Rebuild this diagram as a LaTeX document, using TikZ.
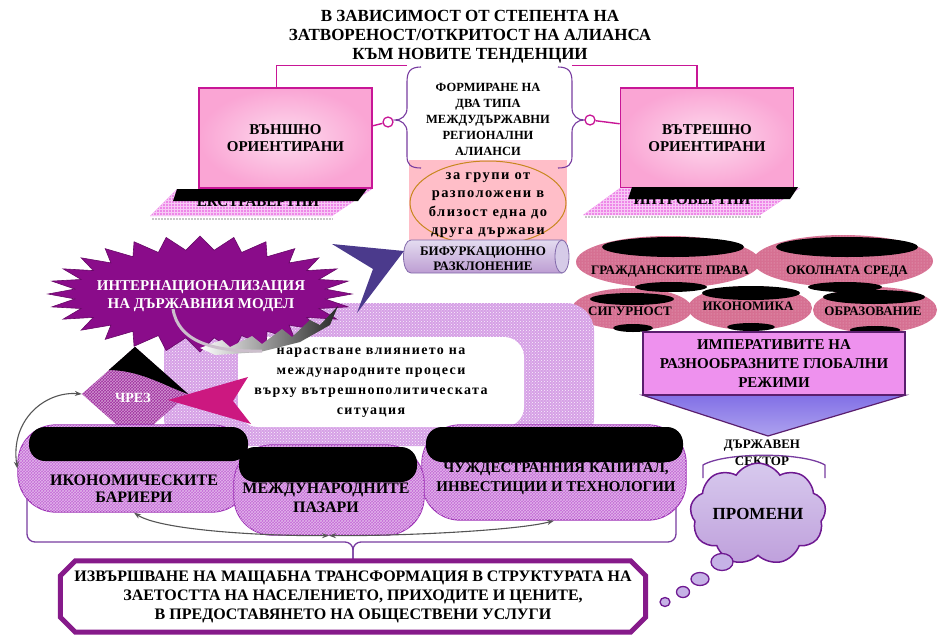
\documentclass[tikz,border=0pt]{standalone}
\usepackage{fontspec}
\setmainfont{Liberation Serif}
\usetikzlibrary{arrows,arrows.meta,shapes,calc,positioning,patterns}

\definecolor{linkmag}{RGB}{200,22,150}
\definecolor{screenpink}{RGB}{250,165,212}
\definecolor{keypink}{RGB}{238,135,232}
\definecolor{bracepurple}{RGB}{120,60,160}
\definecolor{softpink}{RGB}{255,190,200}
\definecolor{ovalrim}{RGB}{200,135,30}
\definecolor{tubefill}{RGB}{200,185,225}
\definecolor{tuberim}{RGB}{130,105,170}
\definecolor{navyarrow}{RGB}{75,58,140}
\definecolor{starpurple}{RGB}{138,12,138}
\definecolor{hotarrow}{RGB}{204,24,128}
\definecolor{ribbon}{RGB}{214,160,230}
\definecolor{boxorchid}{RGB}{196,106,214}
\definecolor{boxrim}{RGB}{155,45,180}
\definecolor{viapurple}{RGB}{160,45,160}
\definecolor{rose}{RGB}{214,112,146}
\definecolor{impviolet}{RGB}{238,145,238}
\definecolor{imprim}{RGB}{90,30,110}
\definecolor{chevron}{RGB}{130,112,230}
\definecolor{cloudfill}{RGB}{198,178,230}
\definecolor{cloudrim}{RGB}{110,25,145}
\definecolor{framepurple}{RGB}{134,26,138}
\definecolor{arcgray}{RGB}{85,85,85}

\newcommand{\fsz}[2]{\fontsize{#1}{#2}\selectfont\bfseries}
\newcommand{\spaced}{\addfontfeature{LetterSpace=10}}

\begin{document}
\begin{tikzpicture}[x=1pt,y=-1pt,
	every node/.style={font=\bfseries, align=center, inner sep=0pt},
	link/.style={draw=linkmag, line width=1.4pt},
	ring/.style={circle, draw=linkmag, fill=white, line width=1.3pt, minimum size=10pt},
	brace/.style={draw=bracepurple, line width=1.1pt},
	screen/.style={rectangle, draw=linkmag, line width=1.6pt, inner color=screenpink!40!white, outer color=screenpink, minimum width=173pt, minimum height=100pt, font=\fsz{15}{17}},
	keyboard/.style={fill=keypink, postaction={pattern=grid, pattern color=keypink!45!white}},
	rosy/.style={ellipse, fill=rose, postaction={pattern=dots, pattern color=rose!50!white}},
	botbox/.style={rectangle, rounded corners=38pt, draw=boxrim, line width=1.3pt, fill=boxorchid, postaction={pattern=crosshatch, pattern color=boxorchid!50!white}},
	arcs/.style={draw=arcgray, line width=1.1pt, <->, >={Stealth[length=7pt,width=5pt]}}
	]
	\useasboundingbox (0,0) rectangle (940,635);

	% title and the two laptops
	\node[font=\fsz{17}{19}] (title) at (470,37) {В ЗАВИСИМОСТ ОТ СТЕПЕНТА НА\\ЗАТВОРЕНОСТ/ОТКРИТОСТ НА АЛИАНСА\\КЪМ НОВИТЕ ТЕНДЕНЦИИ};
	\node[screen] (extScreen) at (285.5,138) {ВЪНШНО\\ОРИЕНТИРАНИ};
	\node[screen] (intScreen) at (707,138) {ВЪТРЕШНО\\ОРИЕНТИРАНИ};
	\draw[link] ([xshift=-9pt]extScreen.north) -- ++(0,-22) -| ([xshift=-10pt]intScreen.north);

	\draw[gray!45, densely dotted, line width=2pt] (152,219) -- (333,219);
	\draw[gray!45, densely dotted, line width=2pt] (585,217) -- (761,217);
	\path[keyboard] (177,189) -- (372,189) -- (332,216) -- (150,216) -- cycle;
	\path[keyboard] (620,188) -- (800,188) -- (760,215) -- (583,215) -- cycle;
	\node[font=\fsz{15}{17}] (extKeys) at (258,202) {ЕКСТРАВЕРТНИ};
	\node[font=\fsz{15}{17}] (intKeys) at (692,200) {ИНТРОВЕРТНИ};
	\fill[black] (177,189) -- (367,189) -- (358,201) -- (173,201) -- cycle;
	\fill[black] (632,187) -- (798,187) -- (790,199) -- (628,199) -- cycle;

	% middle: two types of alliances
	\fill[white] (407,63) rectangle (572,160);
	\fill[softpink] (409,160) rectangle (567,247);
	\fill[cyan!60!teal!70] (562,245) rectangle (568,256);
	\draw[ovalrim, line width=1pt, fill=softpink] (488,203) ellipse [x radius=78, y radius=42];
	\node[font=\fsz{12.5}{16}] (twoTypes) at (488,119) {ФОРМИРАНЕ НА\\ДВА ТИПА\\МЕЖДУДЪРЖАВНИ\\РЕГИОНАЛНИ\\АЛИАНСИ};
	\node[font=\fsz{14.5}{18.5}\spaced] (groups) at (488,205) {за групи от\\разположени в\\близост една до\\друга държави};
	\draw[brace] (421,67) .. controls (410,67) and (407,72) .. (407,82) -- (407,108) .. controls (407,116) and (401,120) .. (395,120) .. controls (401,120) and (407,124) .. (407,132) -- (407,156) .. controls (407,164) and (410,168) .. (421,168);
	\draw[brace] (558,67) .. controls (569,67) and (572,72) .. (572,82) -- (572,108) .. controls (572,116) and (578,120) .. (584,120) .. controls (578,120) and (572,124) .. (572,132) -- (572,156) .. controls (572,164) and (569,168) .. (558,168);
	\node[ring] (lring) at (388,122) {};
	\node[ring] (rring) at (590,120) {};
	\draw[link] (lring) -- ($(extScreen.north east)!0.38!(extScreen.south east)$);
	\draw[link] (rring) -- ($(intScreen.north west)!0.36!(intScreen.south west)$);

	% cylinder
	\draw[tuberim, line width=0.8pt, top color=tubefill!50!white, bottom color=tubefill!85!violet] (562,240) -- (411,240) .. controls (401,240) and (401,273) .. (411,273) -- (562,273) -- cycle;
	\draw[tuberim, line width=0.8pt, fill=tubefill!75!white] (562,256.5) ellipse [x radius=7, y radius=16.5];
	\node[font=\fsz{13}{15}] (fork) at (483,258.5) {БИФУРКАЦИОННО\\РАЗКЛОНЕНИЕ};

	% global regimes
	\node[rosy, minimum width=184pt, minimum height=52pt] (rights) at (668,262) {};
	\node[rosy, minimum width=180pt, minimum height=52pt] (environ) at (843,261) {};
	\node[rosy, minimum width=120pt, minimum height=42pt] (security) at (632,309) {};
	\node[rosy, minimum width=124pt, minimum height=44pt] (economy) at (750,308) {};
	\node[rosy, minimum width=124pt, minimum height=46pt] (education) at (875,310) {};
	\foreach \bx/\by/\rx/\ry in {673/247/71/10, 847/247/71/10, 671/287/36/5, 845/287/37/5, 632/299/42/6, 633/328/20/4, 751/293/49/7, 751/327/24/4, 874/297/51/7, 875/330/25/4}
		\fill[black] (\bx,\by) ellipse [x radius=\rx, y radius=\ry];
	\node[font=\fsz{13}{15}] (rightsText) at (670,272) {ГРАЖДАНСКИТЕ ПРАВА};
	\node[font=\fsz{13}{15}] (environText) at (847,272) {ОКОЛНАТА СРЕДА};
	\node[font=\fsz{13}{15}] (securityText) at (630,311) {СИГУРНОСТ};
	\node[font=\fsz{13}{15}] (economyText) at (748,306) {ИКОНОМИКА};
	\node[font=\fsz{13}{15}] (educationText) at (873,311) {ОБРАЗОВАНИЕ};

	% ribbon and the white callout
	\fill[ribbon, rounded corners=28pt, postaction={pattern=crosshatch dots, pattern color=white!85!ribbon}] (164,303) rectangle (594,446);
	\fill[white, rounded corners=20pt] (238,337) rectangle (524,427);
	\node[font=\fsz{14}{20}\spaced] (growth) at (371,383) {нарастване влиянието на\\международните процеси\\върху вътрешнополитическата\\ситуация};

	% starburst
	\begin{scope}[shift={(200,294)}]
		\draw[draw=starpurple!75!black, fill=starpurple, line width=0.6pt] (152,0) \foreach \i in {1,...,55} { -- ({(152-26*mod(\i,2))*cos(\i*45/7)}, {(58-14*mod(\i,2))*sin(\i*45/7)}) } -- cycle;
	\end{scope}
	\shade[left color=white, right color=black!85] (200,348) -- (222,340) -- (230,347) -- (252,336) -- (262,344) -- (282,329) -- (292,337) -- (310,320) -- (320,325) -- (338,306) -- (330,325) -- (300,342) -- (260,352) -- (215,355) -- cycle;
	\draw[line width=3pt, violet!25!gray!40] (173,309) .. controls (178,340) and (210,352) .. (262,351);
	\node[font=\fsz{15}{18}, text=white] (intl) at (201,296) {ИНТЕРНАЦИОНАЛИЗАЦИЯ\\НА ДЪРЖАВНИЯ МОДЕЛ};
	\fill[navyarrow] (332,244) -- (404,251) -- (357,313) -- (373,269) -- cycle;

	% via
	\node[diamond, fill=viapurple, minimum width=106pt, minimum height=94pt, postaction={pattern=crosshatch, pattern color=viapurple!50!white}] (via) at (135,394) {};
	\begin{scope}
		\clip (via.north) -- (via.east) -- (via.south) -- (via.west) -- cycle;
		\fill[black] (70,340) -- (200,340) -- (200,396) -- (188,394) .. controls (165,386) and (140,370) .. (108,370) -- (70,370) -- cycle;
	\end{scope}
	\node[font=\fsz{14}{16}, text=white] (viaText) at (133,398) {ЧРЕЗ};
	\fill[hotarrow] (168,400) -- (248,377) -- (233,401) -- (251,424) -- cycle;

	% bracket and the three actions
	\coordinate (bracemid) at (353,542);
	\node[rectangle, minimum width=585pt, minimum height=71pt, font=\fsz{16}{19}] (trans) at (353,596.5) {ИЗВЪРШВАНЕ НА МАЩАБНА ТРАНСФОРМАЦИЯ В СТРУКТУРАТА НА\\ЗАЕТОСТТА НА НАСЕЛЕНИЕТО, ПРИХОДИТЕ И ЦЕНИТЕ,\\В ПРЕДОСТАВЯНЕТО НА ОБЩЕСТВЕНИ УСЛУГИ};
	\draw[brace, line width=1.3pt, rounded corners=8pt] (27,480) |- (bracemid) -- (trans.north);
	\draw[brace, line width=1.3pt, rounded corners=8pt] (676,480) |- (bracemid) -- (trans.north);

	\node[botbox, minimum width=232pt, minimum height=87pt] (barriers) at (134,468.5) {};
	\node[botbox, minimum width=264pt, minimum height=95pt] (capital) at (554,472.5) {};
	\fill[black, rounded corners=16pt] (29,427) rectangle (248,461);
	\fill[black, rounded corners=16pt] (426,427) rectangle (683,462);
	\node[botbox, minimum width=190pt, minimum height=90pt] (markets) at (329,490) {};
	\fill[black, rounded corners=16pt] (239,447) rectangle (417,482);
	\node[font=\fsz{16}{17}] (barriersText) at (134,489) {ИКОНОМИЧЕСКИТЕ\\БАРИЕРИ};
	\node[font=\fsz{16}{19}] (marketsText) at (326,498) {МЕЖДУНАРОДНИТЕ\\ПАЗАРИ};
	\node[font=\fsz{15}{19}] (capitalText) at (556,479) {ЧУЖДЕСТРАННИЯ КАПИТАЛ,\\ИНВЕСТИЦИИ И ТЕХНОЛОГИИ};

	\draw[arcs] (via.west) .. controls (45,391) and (10,420) .. (barriers.west);
	\draw[arcs] (barriers.south) .. controls (160,530) and (260,536) .. (markets.south);
	\draw[arcs] (markets.south) .. controls (410,536) and (520,530) .. (capital.south);

	% frame of the transformation
	\draw[framepurple, line width=5pt] ([xshift=15pt]trans.north west) -- ([xshift=-15pt]trans.north east) -- ([yshift=-15pt]trans.north east) -- ([yshift=15pt]trans.south east) -- ([xshift=-15pt]trans.south east) -- ([xshift=15pt]trans.south west) -- ([yshift=15pt]trans.south west) -- ([yshift=-15pt]trans.north west) -- cycle;

	% imperatives, public sector and changes
	\node[rectangle, minimum width=262pt, minimum height=63pt] (imper) at (774,363.5) {};
	\draw[imprim, line width=1.2pt, top color=chevron, bottom color=chevron!65!white] (imper.south west) -- (imper.south east) -- (768,436) -- cycle;
	\node[rectangle, draw=imprim, line width=1.5pt, fill=impviolet, minimum width=262pt, minimum height=63pt, font=\fsz{15}{19}] at (imper) {ИМПЕРАТИВИТЕ НА\\РАЗНООБРАЗНИТЕ ГЛОБАЛНИ\\РЕЖИМИ};
	\draw[brace, line width=1.3pt] (703,478) -- (703,465) .. controls (725,452) and (803,452) .. (825,465) -- (825,478);
	\node[font=\fsz{13}{17}] (sector) at (762,453) {ДЪРЖАВЕН\\СЕКТОР};
	\node[cloud, cloud puffs=9, cloud puff arc=115, aspect=1.55, draw=cloudrim, line width=1.5pt, top color=cloudfill!70!white, bottom color=cloudfill!90!violet, minimum width=130pt, minimum height=84pt, font=\fsz{17}{20}] (change) at (758,514) {ПРОМЕНИ};
	\foreach \bx/\by/\rx/\ry in {665/602/5/4.5, 683/592/6.5/5.5, 700/579/9/6.5, 722/562/11/8.5}
		\draw[cloudrim, line width=1.3pt, fill=cloudfill] (\bx,\by) ellipse [x radius=\rx, y radius=\ry];
\end{tikzpicture}
\end{document}
